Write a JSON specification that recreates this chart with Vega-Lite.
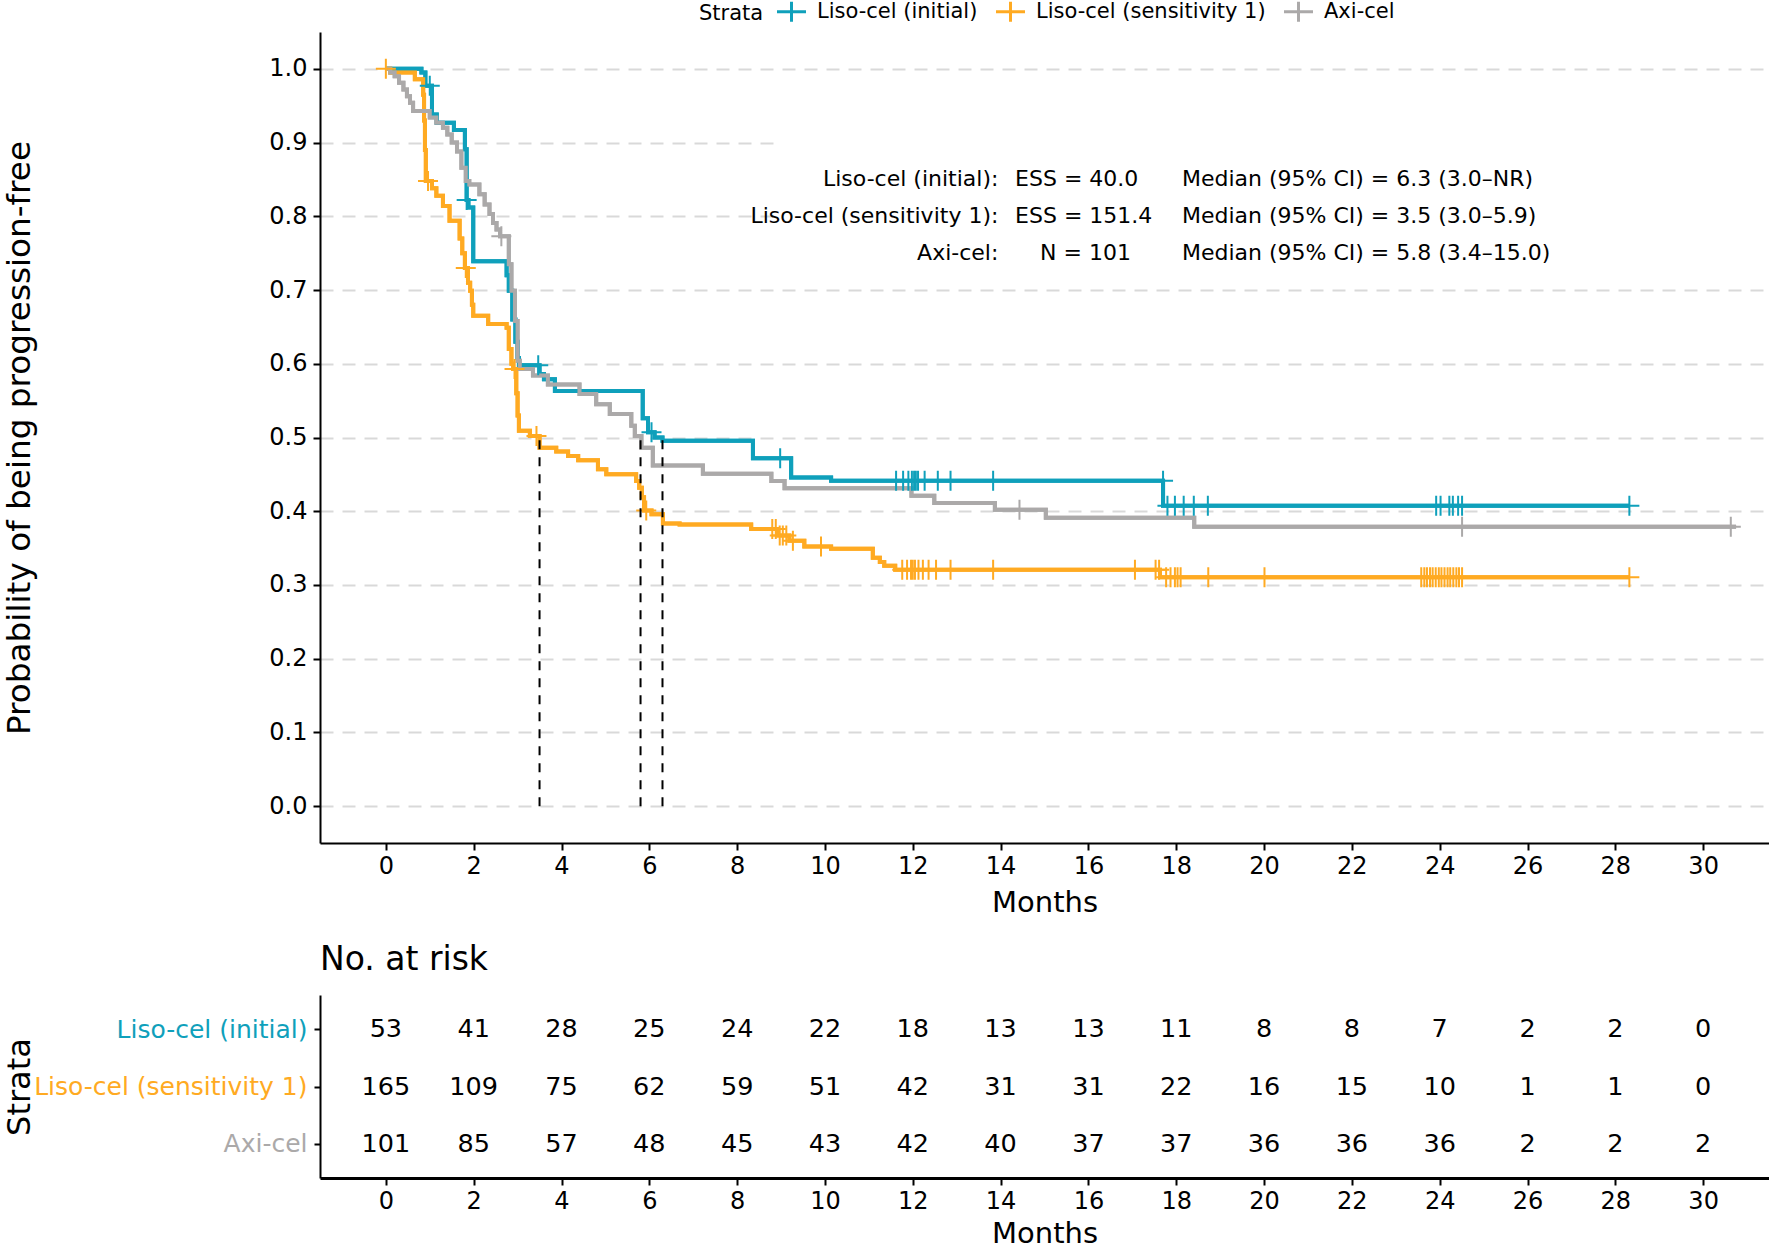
{
  "$schema": "https://vega.github.io/schema/vega-lite/v6.json",
  "padding": {"left": 3, "top": 0, "right": 0, "bottom": 0},
  "autosize": {"type": "pad"},
  "background": "white",
  "config": {
    "font": "DejaVu Sans",
    "view": {"stroke": null},
    "axis": {"domainColor": "black", "domainWidth": 2, "tickColor": "black", "tickWidth": 2, "labelColor": "black", "titleColor": "black", "titleFontWeight": "normal", "labelFont": "DejaVu Sans", "titleFont": "DejaVu Sans", "labelLimit": 400}
  },
  "datasets": {
    "curves": [
      {"strata": "Liso-cel (initial)", "t": 0, "s": 1.0},
      {"strata": "Liso-cel (initial)", "t": 0.81, "s": 0.995},
      {"strata": "Liso-cel (initial)", "t": 0.9, "s": 0.977},
      {"strata": "Liso-cel (initial)", "t": 1.05, "s": 0.938},
      {"strata": "Liso-cel (initial)", "t": 1.16, "s": 0.927},
      {"strata": "Liso-cel (initial)", "t": 1.55, "s": 0.917},
      {"strata": "Liso-cel (initial)", "t": 1.8, "s": 0.891},
      {"strata": "Liso-cel (initial)", "t": 1.84, "s": 0.822},
      {"strata": "Liso-cel (initial)", "t": 1.88, "s": 0.812},
      {"strata": "Liso-cel (initial)", "t": 1.99, "s": 0.739},
      {"strata": "Liso-cel (initial)", "t": 2.75, "s": 0.72},
      {"strata": "Liso-cel (initial)", "t": 2.8, "s": 0.699},
      {"strata": "Liso-cel (initial)", "t": 2.88, "s": 0.66},
      {"strata": "Liso-cel (initial)", "t": 2.95, "s": 0.63},
      {"strata": "Liso-cel (initial)", "t": 3.0, "s": 0.608},
      {"strata": "Liso-cel (initial)", "t": 3.03, "s": 0.598},
      {"strata": "Liso-cel (initial)", "t": 3.5, "s": 0.586},
      {"strata": "Liso-cel (initial)", "t": 3.6, "s": 0.579},
      {"strata": "Liso-cel (initial)", "t": 3.85, "s": 0.563},
      {"strata": "Liso-cel (initial)", "t": 5.85, "s": 0.526},
      {"strata": "Liso-cel (initial)", "t": 5.97, "s": 0.507},
      {"strata": "Liso-cel (initial)", "t": 6.12, "s": 0.5},
      {"strata": "Liso-cel (initial)", "t": 6.3, "s": 0.4955},
      {"strata": "Liso-cel (initial)", "t": 8.36, "s": 0.472},
      {"strata": "Liso-cel (initial)", "t": 9.23, "s": 0.4458},
      {"strata": "Liso-cel (initial)", "t": 10.14, "s": 0.4413},
      {"strata": "Liso-cel (initial)", "t": 17.7, "s": 0.4075},
      {"strata": "Liso-cel (initial)", "t": 28.32, "s": 0.4075},

      {"strata": "Liso-cel (sensitivity 1)", "t": 0, "s": 1.0},
      {"strata": "Liso-cel (sensitivity 1)", "t": 0.1, "s": 0.995},
      {"strata": "Liso-cel (sensitivity 1)", "t": 0.66, "s": 0.986},
      {"strata": "Liso-cel (sensitivity 1)", "t": 0.85, "s": 0.965},
      {"strata": "Liso-cel (sensitivity 1)", "t": 0.87, "s": 0.93},
      {"strata": "Liso-cel (sensitivity 1)", "t": 0.89, "s": 0.89},
      {"strata": "Liso-cel (sensitivity 1)", "t": 0.91, "s": 0.848},
      {"strata": "Liso-cel (sensitivity 1)", "t": 1.05, "s": 0.838},
      {"strata": "Liso-cel (sensitivity 1)", "t": 1.15, "s": 0.828},
      {"strata": "Liso-cel (sensitivity 1)", "t": 1.3, "s": 0.814},
      {"strata": "Liso-cel (sensitivity 1)", "t": 1.45, "s": 0.794},
      {"strata": "Liso-cel (sensitivity 1)", "t": 1.68, "s": 0.77},
      {"strata": "Liso-cel (sensitivity 1)", "t": 1.74, "s": 0.75},
      {"strata": "Liso-cel (sensitivity 1)", "t": 1.8, "s": 0.73},
      {"strata": "Liso-cel (sensitivity 1)", "t": 1.87, "s": 0.71},
      {"strata": "Liso-cel (sensitivity 1)", "t": 1.92, "s": 0.699},
      {"strata": "Liso-cel (sensitivity 1)", "t": 1.96, "s": 0.68},
      {"strata": "Liso-cel (sensitivity 1)", "t": 1.99, "s": 0.665},
      {"strata": "Liso-cel (sensitivity 1)", "t": 2.33, "s": 0.654},
      {"strata": "Liso-cel (sensitivity 1)", "t": 2.75, "s": 0.649},
      {"strata": "Liso-cel (sensitivity 1)", "t": 2.8, "s": 0.62},
      {"strata": "Liso-cel (sensitivity 1)", "t": 2.86, "s": 0.6},
      {"strata": "Liso-cel (sensitivity 1)", "t": 2.9, "s": 0.593},
      {"strata": "Liso-cel (sensitivity 1)", "t": 2.97, "s": 0.56},
      {"strata": "Liso-cel (sensitivity 1)", "t": 3.0, "s": 0.53},
      {"strata": "Liso-cel (sensitivity 1)", "t": 3.03, "s": 0.509},
      {"strata": "Liso-cel (sensitivity 1)", "t": 3.28, "s": 0.502},
      {"strata": "Liso-cel (sensitivity 1)", "t": 3.5, "s": 0.486},
      {"strata": "Liso-cel (sensitivity 1)", "t": 3.88, "s": 0.481},
      {"strata": "Liso-cel (sensitivity 1)", "t": 4.15, "s": 0.475},
      {"strata": "Liso-cel (sensitivity 1)", "t": 4.38, "s": 0.469},
      {"strata": "Liso-cel (sensitivity 1)", "t": 4.83, "s": 0.457},
      {"strata": "Liso-cel (sensitivity 1)", "t": 5.02, "s": 0.45},
      {"strata": "Liso-cel (sensitivity 1)", "t": 5.7, "s": 0.441},
      {"strata": "Liso-cel (sensitivity 1)", "t": 5.77, "s": 0.432},
      {"strata": "Liso-cel (sensitivity 1)", "t": 5.83, "s": 0.419},
      {"strata": "Liso-cel (sensitivity 1)", "t": 5.88, "s": 0.401},
      {"strata": "Liso-cel (sensitivity 1)", "t": 6.05, "s": 0.396},
      {"strata": "Liso-cel (sensitivity 1)", "t": 6.31, "s": 0.3835},
      {"strata": "Liso-cel (sensitivity 1)", "t": 6.69, "s": 0.382},
      {"strata": "Liso-cel (sensitivity 1)", "t": 8.32, "s": 0.376},
      {"strata": "Liso-cel (sensitivity 1)", "t": 8.93, "s": 0.367},
      {"strata": "Liso-cel (sensitivity 1)", "t": 9.19, "s": 0.36},
      {"strata": "Liso-cel (sensitivity 1)", "t": 9.53, "s": 0.352},
      {"strata": "Liso-cel (sensitivity 1)", "t": 10.14, "s": 0.349},
      {"strata": "Liso-cel (sensitivity 1)", "t": 11.09, "s": 0.337},
      {"strata": "Liso-cel (sensitivity 1)", "t": 11.25, "s": 0.331},
      {"strata": "Liso-cel (sensitivity 1)", "t": 11.35, "s": 0.326},
      {"strata": "Liso-cel (sensitivity 1)", "t": 11.6, "s": 0.3207},
      {"strata": "Liso-cel (sensitivity 1)", "t": 17.63, "s": 0.3103},
      {"strata": "Liso-cel (sensitivity 1)", "t": 28.32, "s": 0.3103},

      {"strata": "Axi-cel", "t": 0, "s": 1.0},
      {"strata": "Axi-cel", "t": 0.1, "s": 0.995},
      {"strata": "Axi-cel", "t": 0.2, "s": 0.99},
      {"strata": "Axi-cel", "t": 0.3, "s": 0.981},
      {"strata": "Axi-cel", "t": 0.4, "s": 0.972},
      {"strata": "Axi-cel", "t": 0.48, "s": 0.963},
      {"strata": "Axi-cel", "t": 0.55, "s": 0.954},
      {"strata": "Axi-cel", "t": 0.62, "s": 0.943},
      {"strata": "Axi-cel", "t": 1.0, "s": 0.934},
      {"strata": "Axi-cel", "t": 1.15, "s": 0.927},
      {"strata": "Axi-cel", "t": 1.3, "s": 0.92},
      {"strata": "Axi-cel", "t": 1.4, "s": 0.911},
      {"strata": "Axi-cel", "t": 1.5, "s": 0.9},
      {"strata": "Axi-cel", "t": 1.62, "s": 0.888},
      {"strata": "Axi-cel", "t": 1.72, "s": 0.866},
      {"strata": "Axi-cel", "t": 1.82, "s": 0.848},
      {"strata": "Axi-cel", "t": 1.9, "s": 0.843},
      {"strata": "Axi-cel", "t": 2.13, "s": 0.83},
      {"strata": "Axi-cel", "t": 2.25, "s": 0.816},
      {"strata": "Axi-cel", "t": 2.36, "s": 0.803},
      {"strata": "Axi-cel", "t": 2.44, "s": 0.791},
      {"strata": "Axi-cel", "t": 2.52, "s": 0.782},
      {"strata": "Axi-cel", "t": 2.6, "s": 0.773},
      {"strata": "Axi-cel", "t": 2.8, "s": 0.735},
      {"strata": "Axi-cel", "t": 2.86, "s": 0.699},
      {"strata": "Axi-cel", "t": 2.94, "s": 0.658},
      {"strata": "Axi-cel", "t": 3.0, "s": 0.604},
      {"strata": "Axi-cel", "t": 3.05, "s": 0.593},
      {"strata": "Axi-cel", "t": 3.35, "s": 0.584},
      {"strata": "Axi-cel", "t": 3.69, "s": 0.572},
      {"strata": "Axi-cel", "t": 4.41, "s": 0.559},
      {"strata": "Axi-cel", "t": 4.79, "s": 0.545},
      {"strata": "Axi-cel", "t": 5.1, "s": 0.532},
      {"strata": "Axi-cel", "t": 5.59, "s": 0.516},
      {"strata": "Axi-cel", "t": 5.67, "s": 0.502},
      {"strata": "Axi-cel", "t": 5.82, "s": 0.486},
      {"strata": "Axi-cel", "t": 6.08, "s": 0.462},
      {"strata": "Axi-cel", "t": 7.22, "s": 0.451},
      {"strata": "Axi-cel", "t": 8.78, "s": 0.441},
      {"strata": "Axi-cel", "t": 9.08, "s": 0.431},
      {"strata": "Axi-cel", "t": 11.97, "s": 0.421},
      {"strata": "Axi-cel", "t": 12.49, "s": 0.411},
      {"strata": "Axi-cel", "t": 13.87, "s": 0.402},
      {"strata": "Axi-cel", "t": 15.03, "s": 0.391},
      {"strata": "Axi-cel", "t": 18.41, "s": 0.379},
      {"strata": "Axi-cel", "t": 30.75, "s": 0.379}
    ],
    "censor": [
      {"strata": "Liso-cel (initial)", "t": 1.0, "s": 0.977},
      {"strata": "Liso-cel (initial)", "t": 1.84, "s": 0.822},
      {"strata": "Liso-cel (initial)", "t": 3.47, "s": 0.598},
      {"strata": "Liso-cel (initial)", "t": 6.05, "s": 0.507},
      {"strata": "Liso-cel (initial)", "t": 8.98, "s": 0.472},
      {"strata": "Liso-cel (initial)", "t": 11.62, "s": 0.4413},
      {"strata": "Liso-cel (initial)", "t": 11.78, "s": 0.4413},
      {"strata": "Liso-cel (initial)", "t": 11.9, "s": 0.4413},
      {"strata": "Liso-cel (initial)", "t": 11.98, "s": 0.4413},
      {"strata": "Liso-cel (initial)", "t": 12.03, "s": 0.4413},
      {"strata": "Liso-cel (initial)", "t": 12.07, "s": 0.4413},
      {"strata": "Liso-cel (initial)", "t": 12.12, "s": 0.4413},
      {"strata": "Liso-cel (initial)", "t": 12.27, "s": 0.4413},
      {"strata": "Liso-cel (initial)", "t": 12.57, "s": 0.4413},
      {"strata": "Liso-cel (initial)", "t": 12.86, "s": 0.4413},
      {"strata": "Liso-cel (initial)", "t": 13.83, "s": 0.4413},
      {"strata": "Liso-cel (initial)", "t": 17.7, "s": 0.4413},
      {"strata": "Liso-cel (initial)", "t": 17.8, "s": 0.4075},
      {"strata": "Liso-cel (initial)", "t": 17.97, "s": 0.4075},
      {"strata": "Liso-cel (initial)", "t": 18.17, "s": 0.4075},
      {"strata": "Liso-cel (initial)", "t": 18.4, "s": 0.4075},
      {"strata": "Liso-cel (initial)", "t": 18.72, "s": 0.4075},
      {"strata": "Liso-cel (initial)", "t": 23.92, "s": 0.4075},
      {"strata": "Liso-cel (initial)", "t": 24.02, "s": 0.4075},
      {"strata": "Liso-cel (initial)", "t": 24.22, "s": 0.4075},
      {"strata": "Liso-cel (initial)", "t": 24.3, "s": 0.4075},
      {"strata": "Liso-cel (initial)", "t": 24.42, "s": 0.4075},
      {"strata": "Liso-cel (initial)", "t": 24.51, "s": 0.4075},
      {"strata": "Liso-cel (initial)", "t": 28.32, "s": 0.4075},

      {"strata": "Liso-cel (sensitivity 1)", "t": 0.0, "s": 1.0},
      {"strata": "Liso-cel (sensitivity 1)", "t": 0.96, "s": 0.848},
      {"strata": "Liso-cel (sensitivity 1)", "t": 1.82, "s": 0.73},
      {"strata": "Liso-cel (sensitivity 1)", "t": 2.93, "s": 0.593},
      {"strata": "Liso-cel (sensitivity 1)", "t": 3.43, "s": 0.502},
      {"strata": "Liso-cel (sensitivity 1)", "t": 5.93, "s": 0.401},
      {"strata": "Liso-cel (sensitivity 1)", "t": 8.8, "s": 0.376},
      {"strata": "Liso-cel (sensitivity 1)", "t": 8.88, "s": 0.376},
      {"strata": "Liso-cel (sensitivity 1)", "t": 8.97, "s": 0.367},
      {"strata": "Liso-cel (sensitivity 1)", "t": 9.04, "s": 0.367},
      {"strata": "Liso-cel (sensitivity 1)", "t": 9.12, "s": 0.367},
      {"strata": "Liso-cel (sensitivity 1)", "t": 9.27, "s": 0.36},
      {"strata": "Liso-cel (sensitivity 1)", "t": 9.91, "s": 0.352},
      {"strata": "Liso-cel (sensitivity 1)", "t": 11.76, "s": 0.3207},
      {"strata": "Liso-cel (sensitivity 1)", "t": 11.87, "s": 0.3207},
      {"strata": "Liso-cel (sensitivity 1)", "t": 11.96, "s": 0.3207},
      {"strata": "Liso-cel (sensitivity 1)", "t": 12.0, "s": 0.3207},
      {"strata": "Liso-cel (sensitivity 1)", "t": 12.05, "s": 0.3207},
      {"strata": "Liso-cel (sensitivity 1)", "t": 12.13, "s": 0.3207},
      {"strata": "Liso-cel (sensitivity 1)", "t": 12.23, "s": 0.3207},
      {"strata": "Liso-cel (sensitivity 1)", "t": 12.36, "s": 0.3207},
      {"strata": "Liso-cel (sensitivity 1)", "t": 12.53, "s": 0.3207},
      {"strata": "Liso-cel (sensitivity 1)", "t": 12.86, "s": 0.3207},
      {"strata": "Liso-cel (sensitivity 1)", "t": 13.83, "s": 0.3207},
      {"strata": "Liso-cel (sensitivity 1)", "t": 17.06, "s": 0.3207},
      {"strata": "Liso-cel (sensitivity 1)", "t": 17.53, "s": 0.3207},
      {"strata": "Liso-cel (sensitivity 1)", "t": 17.61, "s": 0.3207},
      {"strata": "Liso-cel (sensitivity 1)", "t": 17.77, "s": 0.3103},
      {"strata": "Liso-cel (sensitivity 1)", "t": 17.87, "s": 0.3103},
      {"strata": "Liso-cel (sensitivity 1)", "t": 17.97, "s": 0.3103},
      {"strata": "Liso-cel (sensitivity 1)", "t": 18.03, "s": 0.3103},
      {"strata": "Liso-cel (sensitivity 1)", "t": 18.1, "s": 0.3103},
      {"strata": "Liso-cel (sensitivity 1)", "t": 18.73, "s": 0.3103},
      {"strata": "Liso-cel (sensitivity 1)", "t": 20.01, "s": 0.3103},
      {"strata": "Liso-cel (sensitivity 1)", "t": 23.58, "s": 0.3103},
      {"strata": "Liso-cel (sensitivity 1)", "t": 23.65, "s": 0.3103},
      {"strata": "Liso-cel (sensitivity 1)", "t": 23.71, "s": 0.3103},
      {"strata": "Liso-cel (sensitivity 1)", "t": 23.78, "s": 0.3103},
      {"strata": "Liso-cel (sensitivity 1)", "t": 23.84, "s": 0.3103},
      {"strata": "Liso-cel (sensitivity 1)", "t": 23.91, "s": 0.3103},
      {"strata": "Liso-cel (sensitivity 1)", "t": 23.98, "s": 0.3103},
      {"strata": "Liso-cel (sensitivity 1)", "t": 24.04, "s": 0.3103},
      {"strata": "Liso-cel (sensitivity 1)", "t": 24.11, "s": 0.3103},
      {"strata": "Liso-cel (sensitivity 1)", "t": 24.18, "s": 0.3103},
      {"strata": "Liso-cel (sensitivity 1)", "t": 24.24, "s": 0.3103},
      {"strata": "Liso-cel (sensitivity 1)", "t": 24.31, "s": 0.3103},
      {"strata": "Liso-cel (sensitivity 1)", "t": 24.38, "s": 0.3103},
      {"strata": "Liso-cel (sensitivity 1)", "t": 24.44, "s": 0.3103},
      {"strata": "Liso-cel (sensitivity 1)", "t": 24.51, "s": 0.3103},
      {"strata": "Liso-cel (sensitivity 1)", "t": 28.32, "s": 0.3103},

      {"strata": "Axi-cel", "t": 2.63, "s": 0.773},
      {"strata": "Axi-cel", "t": 14.43, "s": 0.402},
      {"strata": "Axi-cel", "t": 24.51, "s": 0.379},
      {"strata": "Axi-cel", "t": 30.63, "s": 0.379}
    ],
    "medians": [
      {"strata": "Liso-cel (sensitivity 1)", "t": 3.5},
      {"strata": "Axi-cel", "t": 5.8},
      {"strata": "Liso-cel (initial)", "t": 6.3}
    ],
    "notes": [
      {"col": 1, "x": 13.95, "y": 0.85, "label": "Liso-cel (initial):"},
      {"col": 1, "x": 13.95, "y": 0.80, "label": "Liso-cel (sensitivity 1):"},
      {"col": 1, "x": 13.95, "y": 0.75, "label": "Axi-cel:"},
      {"col": 2, "x": 14.33, "y": 0.85, "label": "ESS = 40.0"},
      {"col": 2, "x": 14.33, "y": 0.80, "label": "ESS = 151.4"},
      {"col": 2, "x": 14.9, "y": 0.75, "label": "N = 101"},
      {"col": 3, "x": 18.13, "y": 0.85, "label": "Median (95% CI) = 6.3 (3.0–NR)"},
      {"col": 3, "x": 18.13, "y": 0.80, "label": "Median (95% CI) = 3.5 (3.0–5.9)"},
      {"col": 3, "x": 18.13, "y": 0.75, "label": "Median (95% CI) = 5.8 (3.4–15.0)"}
    ],
    "risk": [
      {"strata": "Liso-cel (initial)", "t": 0, "n": 53},
      {"strata": "Liso-cel (initial)", "t": 2, "n": 41},
      {"strata": "Liso-cel (initial)", "t": 4, "n": 28},
      {"strata": "Liso-cel (initial)", "t": 6, "n": 25},
      {"strata": "Liso-cel (initial)", "t": 8, "n": 24},
      {"strata": "Liso-cel (initial)", "t": 10, "n": 22},
      {"strata": "Liso-cel (initial)", "t": 12, "n": 18},
      {"strata": "Liso-cel (initial)", "t": 14, "n": 13},
      {"strata": "Liso-cel (initial)", "t": 16, "n": 13},
      {"strata": "Liso-cel (initial)", "t": 18, "n": 11},
      {"strata": "Liso-cel (initial)", "t": 20, "n": 8},
      {"strata": "Liso-cel (initial)", "t": 22, "n": 8},
      {"strata": "Liso-cel (initial)", "t": 24, "n": 7},
      {"strata": "Liso-cel (initial)", "t": 26, "n": 2},
      {"strata": "Liso-cel (initial)", "t": 28, "n": 2},
      {"strata": "Liso-cel (initial)", "t": 30, "n": 0},
      {"strata": "Liso-cel (sensitivity 1)", "t": 0, "n": 165},
      {"strata": "Liso-cel (sensitivity 1)", "t": 2, "n": 109},
      {"strata": "Liso-cel (sensitivity 1)", "t": 4, "n": 75},
      {"strata": "Liso-cel (sensitivity 1)", "t": 6, "n": 62},
      {"strata": "Liso-cel (sensitivity 1)", "t": 8, "n": 59},
      {"strata": "Liso-cel (sensitivity 1)", "t": 10, "n": 51},
      {"strata": "Liso-cel (sensitivity 1)", "t": 12, "n": 42},
      {"strata": "Liso-cel (sensitivity 1)", "t": 14, "n": 31},
      {"strata": "Liso-cel (sensitivity 1)", "t": 16, "n": 31},
      {"strata": "Liso-cel (sensitivity 1)", "t": 18, "n": 22},
      {"strata": "Liso-cel (sensitivity 1)", "t": 20, "n": 16},
      {"strata": "Liso-cel (sensitivity 1)", "t": 22, "n": 15},
      {"strata": "Liso-cel (sensitivity 1)", "t": 24, "n": 10},
      {"strata": "Liso-cel (sensitivity 1)", "t": 26, "n": 1},
      {"strata": "Liso-cel (sensitivity 1)", "t": 28, "n": 1},
      {"strata": "Liso-cel (sensitivity 1)", "t": 30, "n": 0},
      {"strata": "Axi-cel", "t": 0, "n": 101},
      {"strata": "Axi-cel", "t": 2, "n": 85},
      {"strata": "Axi-cel", "t": 4, "n": 57},
      {"strata": "Axi-cel", "t": 6, "n": 48},
      {"strata": "Axi-cel", "t": 8, "n": 45},
      {"strata": "Axi-cel", "t": 10, "n": 43},
      {"strata": "Axi-cel", "t": 12, "n": 42},
      {"strata": "Axi-cel", "t": 14, "n": 40},
      {"strata": "Axi-cel", "t": 16, "n": 37},
      {"strata": "Axi-cel", "t": 18, "n": 37},
      {"strata": "Axi-cel", "t": 20, "n": 36},
      {"strata": "Axi-cel", "t": 22, "n": 36},
      {"strata": "Axi-cel", "t": 24, "n": 36},
      {"strata": "Axi-cel", "t": 26, "n": 2},
      {"strata": "Axi-cel", "t": 28, "n": 2},
      {"strata": "Axi-cel", "t": 30, "n": 2}
    ]
  },
  "spacing": 27,
  "resolve": {"scale": {"color": "independent"}, "legend": {"color": "independent"}},
  "vconcat": [
    {
      "width": 1449,
      "height": 811,
      "layer": [
        {
          "data": {"name": "curves"},
          "mark": {"type": "line", "interpolate": "step-after", "strokeWidth": 4},
          "encoding": {
            "x": {"field": "t", "type": "quantitative", "scale": {"domain": [-1.5, 31.5], "nice": false, "zero": false},
              "axis": {"values": [0,2,4,6,8,10,12,14,16,18,20,22,24,26,28,30], "title": "Months", "titleFontSize": 29, "labelFontSize": 24, "tickSize": 7, "labelPadding": 4, "titlePadding": 10, "grid": false, "labelFlush": false}},
            "y": {"field": "s", "type": "quantitative", "scale": {"domain": [-0.05, 1.05], "nice": false, "zero": false},
              "axis": {"values": [0,0.1,0.2,0.3,0.4,0.5,0.6,0.7,0.8,0.9,1.0], "format": ".1f", "title": "Probability of being progression-free", "titleFontSize": 32.7, "labelFontSize": 24, "tickSize": 7, "labelPadding": 6, "titlePadding": 232, "grid": true, "gridDash": [13, 9], "gridColor": "#d9d9d9", "gridWidth": 2, "labelFlush": false}},
            "color": {"field": "strata", "type": "nominal",
              "scale": {"domain": ["Liso-cel (initial)", "Liso-cel (sensitivity 1)", "Axi-cel"], "range": ["#0FA0BB", "#FFAA22", "#ABA9A9"]},
              "legend": {"orient": "none", "legendX": 379, "legendY": -32, "direction": "horizontal", "title": "Strata", "titleOrient": "left", "titleFontSize": 21, "titleFontWeight": "normal", "titleColor": "black", "labelFontSize": 21, "labelColor": "black", "labelLimit": 0, "symbolType": "M-1.45,0H1.45M0,-1V1", "symbolSize": 400, "symbolStrokeWidth": 3, "labelOffset": 14, "columnPadding": 12, "titlePadding": 16}},
            "order": {"field": "t", "type": "quantitative"}
          }
        },
        {
          "data": {"values": [{}]},
          "mark": {"type": "rect", "color": "white"},
          "encoding": {
            "x": {"datum": 8.9, "type": "quantitative"},
            "x2": {"datum": 31.5},
            "y": {"datum": 0.73, "type": "quantitative"},
            "y2": {"datum": 0.93}
          }
        },
        {
          "data": {"name": "curves"},
          "mark": {"type": "line", "interpolate": "step-after", "strokeWidth": 4},
          "encoding": {
            "x": {"field": "t", "type": "quantitative"},
            "y": {"field": "s", "type": "quantitative"},
            "color": {"field": "strata", "type": "nominal"},
            "order": {"field": "t", "type": "quantitative"}
          }
        },
        {
          "data": {"name": "censor"},
          "mark": {"type": "point", "shape": "M-1,0H1M0,-1V1", "filled": false, "size": 400, "strokeWidth": 2, "opacity": 1},
          "encoding": {
            "x": {"field": "t", "type": "quantitative"},
            "y": {"field": "s", "type": "quantitative"},
            "color": {"field": "strata", "type": "nominal"}
          }
        },
        {
          "data": {"name": "medians"},
          "mark": {"type": "rule", "color": "black", "strokeWidth": 2, "strokeDash": [9, 8]},
          "encoding": {
            "x": {"field": "t", "type": "quantitative"},
            "y": {"datum": 0, "type": "quantitative"},
            "y2": {"datum": 0.5}
          }
        },
        {
          "data": {"name": "notes"},
          "transform": [{"filter": "datum.col == 1"}],
          "mark": {"type": "text", "align": "right", "baseline": "middle", "fontSize": 22, "color": "black"},
          "encoding": {
            "x": {"field": "x", "type": "quantitative"},
            "y": {"field": "y", "type": "quantitative"},
            "text": {"field": "label"}
          }
        },
        {
          "data": {"name": "notes"},
          "transform": [{"filter": "datum.col > 1"}],
          "mark": {"type": "text", "align": "left", "baseline": "middle", "fontSize": 22, "color": "black"},
          "encoding": {
            "x": {"field": "x", "type": "quantitative"},
            "y": {"field": "y", "type": "quantitative"},
            "text": {"field": "label"}
          }
        }
      ]
    },
    {
      "width": 1449,
      "height": 183,
      "title": {"text": "No. at risk", "anchor": "start", "frame": "group", "fontSize": 33, "fontWeight": "normal", "offset": 18, "font": "DejaVu Sans", "color": "black"},
      "data": {"name": "risk"},
      "mark": {"type": "text", "fontSize": 25.5, "color": "black", "baseline": "middle"},
      "encoding": {
        "x": {"field": "t", "type": "quantitative", "scale": {"domain": [-1.5, 31.5], "nice": false, "zero": false},
          "axis": {"values": [0,2,4,6,8,10,12,14,16,18,20,22,24,26,28,30], "title": "Months", "titleFontSize": 29, "labelFontSize": 24, "tickSize": 7, "labelPadding": 4, "titlePadding": 6, "grid": false, "domainWidth": 3}},
        "y": {"field": "strata", "type": "nominal", "sort": ["Liso-cel (initial)", "Liso-cel (sensitivity 1)", "Axi-cel"],
          "scale": {"type": "point", "padding": 0.6},
          "axis": {"title": "Strata", "titleFontSize": 32, "titleX": -284, "labelFontSize": 25, "labelLimit": 400, "tickSize": 6, "labelPadding": 7, "titlePadding": 0, "grid": false,
            "labelColor": {"condition": [{"test": "datum.value === 'Liso-cel (initial)'", "value": "#0FA0BB"}, {"test": "datum.value === 'Liso-cel (sensitivity 1)'", "value": "#FFAA22"}], "value": "#ABA9A9"}}},
        "text": {"field": "n", "type": "quantitative"}
      }
    }
  ]
}
